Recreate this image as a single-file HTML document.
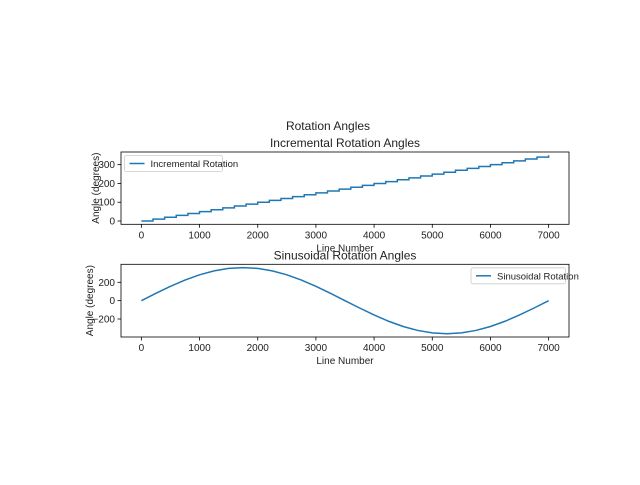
<!DOCTYPE html>
<html><head><meta charset="utf-8"><style>
body{margin:0;background:#fff;}
svg text{font-family:"Liberation Sans","DejaVu Sans",sans-serif;fill:#222;}
</style></head><body>
<svg id="fig" width="640" height="480" xmlns="http://www.w3.org/2000/svg">
<rect width="640" height="480" fill="#fff"/>
<text x="328" y="130" font-size="12" text-anchor="middle">Rotation Angles</text>
</svg>
<script>
const stepPositions=[0,200,400,600,800,1000,1200,1400,1600,1800,2000,2200,2400,2600,2800,3000,3200,3400,3600,3800,4000,4200,4400,4600,4800,5000,5200,5400,5600,5800,6000,6200,6400,6600,6800,7000];
const stepAngles=[0,10,20,30,40,50,60,70,80,90,100,110,120,130,140,150,160,170,180,190,200,210,220,230,240,250,260,270,280,290,300,310,320,330,340,350];
const sineLines=[0,250,500,750,1000,1250,1500,1750,2000,2250,2500,2750,3000,3250,3500,3750,4000,4250,4500,4750,5000,5250,5500,5750,6000,6250,6500,6750,7000];
const sineAngles=[0,80.1,156.2,224.5,281.5,324.4,351,360,351,324.4,281.5,224.5,156.2,80.1,0,-80.1,-156.2,-224.5,-281.5,-324.4,-351,-360,-351,-324.4,-281.5,-224.5,-156.2,-80.1,0];
const xTicks=[0,1000,2000,3000,4000,5000,6000,7000];
const topYTicks=[0,100,200,300];
const botYTicks=[-200,0,200];

const NS="http://www.w3.org/2000/svg";
const svg=document.getElementById('fig');
function el(tag,attrs,parent){const e=document.createElementNS(NS,tag);for(const k in attrs)e.setAttribute(k,attrs[k]);(parent||svg).appendChild(e);return e;}

function panel(o){
  const g=el('g',{});
  
  
  const L=121,R=569,T=o.top,B=o.bottom;
  const xmin=-350,xmax=7350;
  const X=v=>L+(v-xmin)/(xmax-xmin)*(R-L);
  const Y=v=>B-(v-o.ymin)/(o.ymax-o.ymin)*(B-T);
  const t=el('text',{x:(L+R)/2,y:T-5,'font-size':12,'text-anchor':'middle'},g);t.textContent=o.title;
  
  
  // ticks
  xTicks.forEach(v=>{
    el('line',{x1:X(v),x2:X(v),y1:B,y2:B+3.5,stroke:'#000','stroke-width':0.8},g);
    const tx=el('text',{x:X(v),y:B+14,'font-size':10,'text-anchor':'middle'},g);tx.textContent=v;
    
    
  });
  o.yticks.forEach(v=>{
    el('line',{x1:L-3.5,x2:L,y1:Y(v),y2:Y(v),stroke:'#000','stroke-width':0.8},g);
    const ty=el('text',{x:L-6,y:Y(v)+3.5,'font-size':10,'text-anchor':'end'},g);ty.textContent=v===0?'0':String(v).replace('-','\u2212');
    
    
  });
  const xl=el('text',{x:(L+R)/2,y:B+27,'font-size':10,'text-anchor':'middle'},g);xl.textContent='Line Number';
  
  
  const yx=o.ylabX,yy=(T+B)/2;
  const yl=el('text',{x:yx,y:yy,'font-size':10,'text-anchor':'middle',transform:`rotate(-90 ${yx} ${yy})`},g);yl.textContent='Angle (degrees)';
  
  
  // series
  let d='';
  if(o.step){
    for(let i=0;i<stepAngles.length;i++){
      const x0=X(stepPositions[i]);const x1=X(Math.min(stepPositions[i]+199,7000));
      d+=(i?'L':'M')+x0+' '+Y(stepAngles[i])+'L'+x1+' '+Y(stepAngles[i]);
    }
  }else{
    sineLines.forEach((v,i)=>{d+=(i?'L':'M')+X(v)+' '+Y(sineAngles[i]);});
  }
  const p=el('path',{d:d,fill:'none',stroke:'#1f77b4','stroke-width':1.5},g);
  
  
  el('rect',{x:L,y:T,width:R-L,height:B-T,fill:'none',stroke:'#000','stroke-width':0.8},g);
  // legend
  const lg=el('g',{},g);
  
  
  el('rect',{x:o.lx,y:T+3.5,width:o.lw,height:16,fill:'#fff',stroke:'#ccc','stroke-width':0.8,rx:2},lg);
  el('line',{x1:o.lx+5,x2:o.lx+20,y1:T+11.5,y2:T+11.5,stroke:'#1f77b4','stroke-width':1.5},lg);
  const lt=el('text',{x:o.lx+26,y:T+15,'font-size':9.5},lg);lt.textContent=o.legend;
  
  
}
panel({name:'incremental-panel',title:'Incremental Rotation Angles',top:152,bottom:224.3,ymin:-17.5,ymax:367.5,yticks:topYTicks,step:true,legend:'Incremental Rotation',lx:124.5,lw:98,ylabX:99});
panel({name:'sinusoidal-panel',title:'Sinusoidal Rotation Angles',top:264.3,bottom:337,ymin:-396,ymax:396,yticks:botYTicks,step:false,legend:'Sinusoidal Rotation',lx:471,lw:94.5,ylabX:93});
</script>
</body></html>
